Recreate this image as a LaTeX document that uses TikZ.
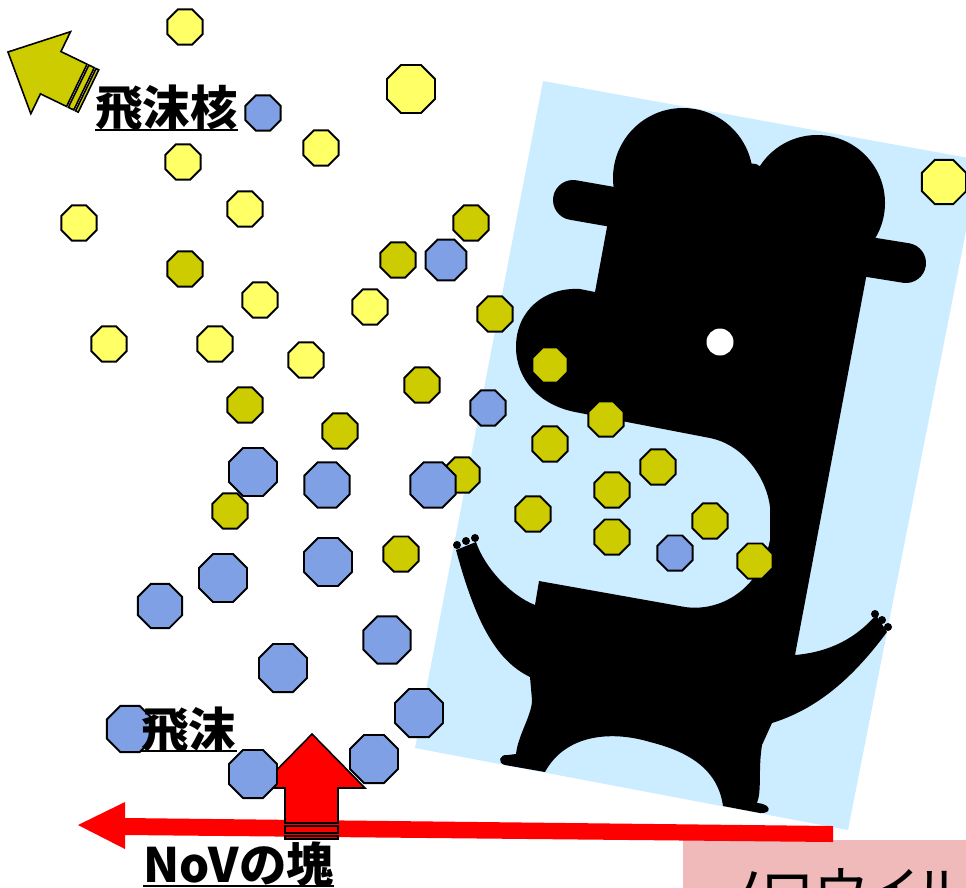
\documentclass[tikz,border=0pt]{standalone}
\usepackage{fontspec}
\usepackage{tikz}
\usepackage{xcolor}
\usetikzlibrary{shapes.geometric}

\newfontfamily\jpfont{Noto Sans CJK JP}
\newfontfamily\jppfont{Noto Sans CJK JP}[RawFeature=+palt]

\definecolor{skyback}{RGB}{204,236,255}
\definecolor{nucleusyel}{RGB}{255,255,102}
\definecolor{infectolive}{RGB}{204,204,0}
\definecolor{dropblue}{RGB}{128,160,230}
\definecolor{notepink}{RGB}{240,186,186}

\begin{document}
\begin{tikzpicture}[x=0.02cm, y=-0.02cm,
    oct/.style={regular polygon, regular polygon sides=8, draw, line width=1.1pt, inner sep=0pt, minimum size=0.76cm},
    nucleus/.style={oct, fill=nucleusyel},
    infected/.style={oct, fill=infectolive},
    droplet/.style={oct, fill=dropblue},
    big/.style={minimum size=1.04cm},
    blockarrow/.style={draw, line width=0.9pt, line join=miter},
    jlabel/.style={font=\jpfont\bfseries\fontsize{27}{32}\selectfont, inner sep=0pt, anchor=base west},
    uline/.style={line width=1.2pt}]

    \useasboundingbox (0,0) rectangle (966,887);
    \clip (0,0) rectangle (966,887);

    % tilted backdrop
    \fill[skyback] (543,81) -- (980,160) -- (848,830) -- (415,748) -- cycle;

    % the sneezing figure
    \fill[black] (683,178) circle (70);
    \fill[black] (817,203) circle (68);
    \draw[line width=0.8cm, line cap=round] (573,200) -- (630,210);
    \draw[line width=0.8cm, line cap=round] (850,254) -- (906,263);
    \fill[black] (630,150) -- (756,164) -- (875,230) -- (795,655)
        .. controls (830,652) and (856,638) .. (876,615)
        -- (887,632)
        .. controls (855,675) and (820,708) .. (772,723)
        -- (762,745)
        .. controls (758,770) and (762,790) .. (757,803)
        .. controls (772,804) and (772,814) .. (760,813)
        -- (723,806)
        .. controls (718,770) and (690,752) .. (650,742)
        .. controls (610,730) and (565,735) .. (545,772)
        -- (505,765)
        .. controls (497,763) and (499,754) .. (508,755)
        -- (516,754)
        .. controls (518,735) and (532,715) .. (532,700)
        -- (530,677)
        .. controls (495,660) and (475,620) .. (456,550)
        -- (476,542)
        .. controls (485,568) and (510,595) .. (535,605)
        -- (539,581) -- (685,607)
        .. controls (720,612) and (760,590) .. (770,540)
        -- (770,507)
        .. controls (767,480) and (745,445) .. (710,438)
        -- (575,412)
        .. controls (540,405) and (516,380) .. (516,347)
        .. controls (516,310) and (545,287) .. (580,289)
        -- (595,292) -- (607,227) -- (615,185) -- cycle;
    % fingers
    \fill[black] (457,545) circle (4) (466,541) circle (4) (475,538) circle (4);
    \fill[black] (875,614) circle (4) (882,620) circle (4) (888,627) circle (4);
    \fill[white] (720,342) circle (13.5);

    % caption box
    \fill[notepink] (683,840) rectangle (990,900);
    \node[font=\jppfont\fontsize{32}{36}\selectfont, inner sep=0pt, anchor=base west] (virus) at (716,913) {ノロウイルス};

    % arrows
    \fill[red] (78,825) -- (125,802) -- (125,818) -- (833,826) -- (833,842) -- (125,835) -- (125,849) -- cycle;
    \draw[blockarrow, fill=red] (312,734) -- (365,788) -- (338,788) -- (338,823) -- (285,823) -- (285,788) -- (259,788) -- cycle;
    \draw[blockarrow, fill=red] (285,826) rectangle (338,833);
    \draw[blockarrow, fill=red] (285,836) rectangle (338,839);
    \begin{scope}[shift={(88.5,91)}, rotate=154.15]
        \draw[blockarrow, fill=infectolive] (13,-23.5) -- (42,-23.5) -- (42,-45.6) -- (89.5,0) -- (42,45.6) -- (42,23.5) -- (13,23.5) -- cycle;
        \draw[blockarrow, fill=infectolive] (5,-23.5) rectangle (11,23.5);
        \draw[blockarrow, fill=infectolive] (0,-23.5) rectangle (3,23.5);
    \end{scope}

    % droplet nuclei
    \node[nucleus] (y1) at (185,27) {};
    \node[nucleus, big] (y2) at (411,89) {};
    \node[nucleus] (y3) at (321,148) {};
    \node[nucleus] (y4) at (183,162) {};
    \node[nucleus] (y5) at (245,209) {};
    \node[nucleus] (y6) at (79,223) {};
    \node[nucleus] (y7) at (260,300) {};
    \node[nucleus] (y8) at (370,307) {};
    \node[nucleus] (y9) at (109,344) {};
    \node[nucleus] (y10) at (215,344) {};
    \node[nucleus] (y11) at (306,360) {};
    \node[nucleus, minimum size=0.96cm] (y12) at (944,182) {};

    % nuclei carrying virus
    \node[infected] (o1) at (471,223) {};
    \node[infected] (o2) at (398,260) {};
    \node[infected] (o3) at (185,269) {};
    \node[infected] (o4) at (495,314) {};
    \node[infected] (o5) at (550,365) {};
    \node[infected] (o6) at (422,385) {};
    \node[infected] (o7) at (245,405) {};
    \node[infected] (o8) at (340,431) {};
    \node[infected] (o9) at (606,419) {};
    \node[infected] (o10) at (550,444) {};
    \node[infected] (o11) at (658,467) {};
    \node[infected] (o12) at (462,475) {};
    \node[infected] (o13) at (612,490) {};
    \node[infected] (o14) at (230,511) {};
    \node[infected] (o15) at (533,514) {};
    \node[infected] (o16) at (710,521) {};
    \node[infected] (o17) at (612,537) {};
    \node[infected] (o18) at (401,554) {};
    \node[infected] (o19) at (755,561) {};

    % droplets
    \node[droplet] (b1) at (263,113) {};
    \node[droplet, minimum size=0.88cm] (b2) at (446,260) {};
    \node[droplet] (b3) at (488,408) {};
    \node[droplet, big] (b4) at (253,472) {};
    \node[droplet, minimum size=0.98cm] (b5) at (327,485) {};
    \node[droplet, minimum size=0.98cm] (b6) at (433,485) {};
    \node[droplet] (b7) at (675,553) {};
    \node[droplet, big] (b8) at (328,562) {};
    \node[droplet, big] (b9) at (223,578) {};
    \node[droplet, minimum size=0.96cm] (b10) at (160,606) {};
    \node[droplet, minimum size=1.02cm] (b11) at (387,640) {};
    \node[droplet, big] (b12) at (283,668) {};
    \node[droplet, big] (b13) at (419,713) {};
    \node[droplet, minimum size=1.0cm] (b14) at (130,729) {};
    \node[droplet, big] (b15) at (374,759) {};
    \node[droplet, big] (b16) at (253,774) {};

    % labels
    \node[jlabel] (nuclei) at (95,125) {飛沫核};
    \node[jlabel] (drops) at (141,747) {飛沫};
    \node[jlabel] (lump) at (143,882) {NoVの塊};
    \draw[uline] ([yshift=-2.6pt]nuclei.base west) -- ([yshift=-2.6pt]nuclei.base east);
    \draw[uline] ([yshift=-2.4pt]drops.base west) -- ([yshift=-2.4pt]drops.base east);
    \draw[uline] ([yshift=-2.2pt]lump.base west) -- ([yshift=-2.2pt]lump.base east);
\end{tikzpicture}
\end{document}
